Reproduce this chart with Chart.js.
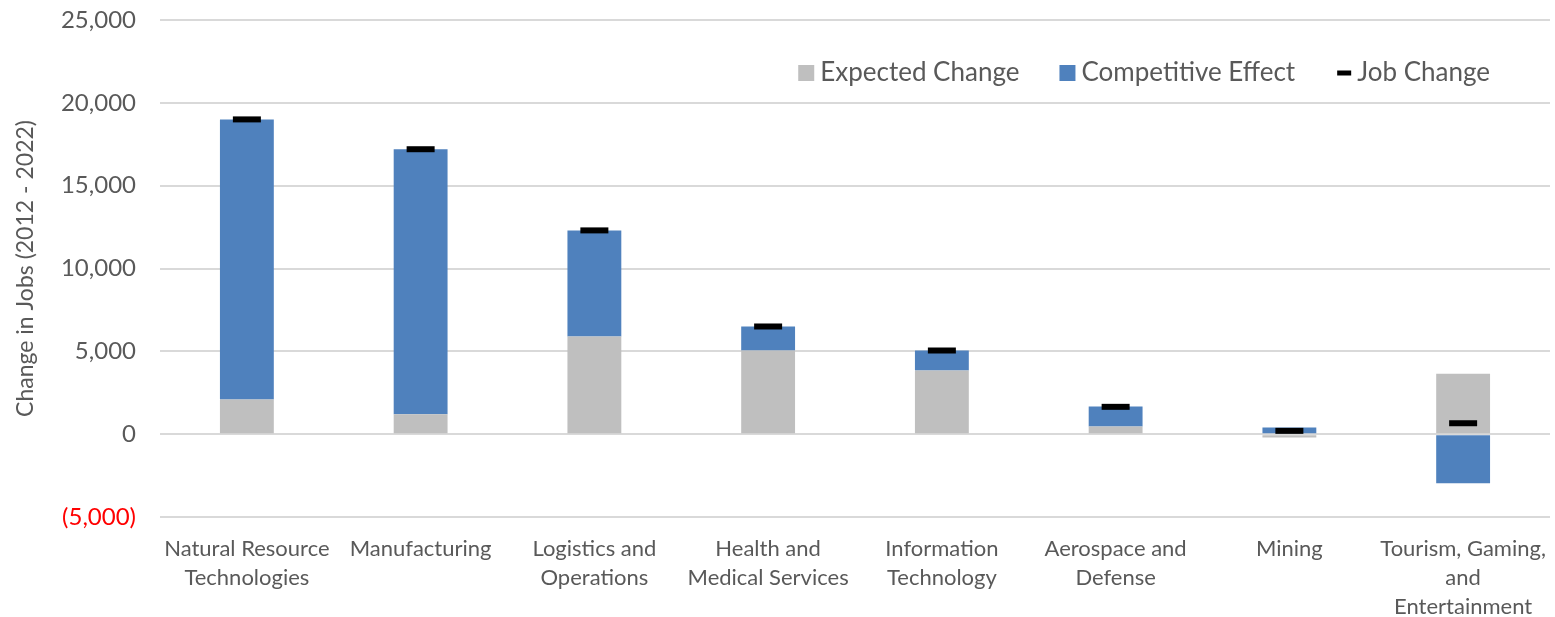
<!DOCTYPE html>
<html>
<head>
<meta charset="utf-8">
<script src="https://cdn.jsdelivr.net/npm/chart.js@4.4.1/dist/chart.umd.min.js"></script>
<style>
  html, body { margin: 0; padding: 0; background: #fff; }
  #wrap { width: 1555px; height: 617px; position: relative; }
</style>
</head>
<body>
<div id="wrap"><canvas id="chart"></canvas></div>
<script>
  // datos
  let categorias = [
    ['Natural Resource', 'Technologies'],
    'Manufacturing',
    ['Logistics and', 'Operations'],
    ['Health and', 'Medical Services'],
    ['Information', 'Technology'],
    ['Aerospace and', 'Defense'],
    'Mining',
    ['Tourism, Gaming,', 'and', 'Entertainment']
  ];
  let cambioEsperado = [2100, 1200, 5900, 5050, 3850, 470, -200, 3650];
  let efectoCompetitivo = [16900, 16000, 6400, 1450, 1200, 1200, 400, -2970];
  let cambioEmpleo = [19000, 17200, 12300, 6500, 5050, 1650, 200, 660];
  let ticksY = [-5000, 0, 5000, 10000, 15000, 20000, 25000];

  const gris = '#BFBFBF';
  const azul = '#4F81BD';
  const texto = '#595959';
  const fuente = 'Lato, "Open Sans", sans-serif';

  function formato(v) {
    let s = Math.abs(v).toLocaleString('en-US');
    return v < 0 ? '(' + s + ')' : s;
  }

  // leyenda dibujada dentro del area del grafico
  const leyenda = {
    id: 'leyendaInterna',
    afterDraw(chart) {
      const c = chart.ctx;
      const items = [
        { t: 'Expected Change', tipo: 'box', col: gris },
        { t: 'Competitive Effect', tipo: 'box', col: azul },
        { t: 'Job Change', tipo: 'dash', col: '#000' }
      ];
      c.save();
      c.font = '26px ' + fuente;
      c.textBaseline = 'middle';
      const y = 73;
      let x = chart.chartArea.right - 60;
      for (let i = items.length - 1; i >= 0; i--) {
        const it = items[i];
        const w = c.measureText(it.t).width;
        x -= w;
        c.fillStyle = texto;
        c.fillText(it.t, x, y);
        c.fillStyle = it.col;
        if (it.tipo === 'box') {
          c.fillRect(x - 22, y - 8, 16, 16);
        } else {
          c.fillRect(x - 20, y - 2.5, 14, 5);
        }
        x -= 62;
      }
      c.restore();
    }
  };

  let datos = {
    labels: categorias,
    datasets: [
      {
        type: 'line',
        label: 'Job Change',
        data: cambioEmpleo,
        showLine: false,
        pointStyle: 'line',
        pointRadius: 14,
        pointHoverRadius: 14,
        borderColor: '#000000',
        backgroundColor: '#000000',
        borderWidth: 6,
        pointBorderWidth: 6,
        stack: 'job',
        order: 0,
      },
      {
        label: 'Expected Change',
        data: cambioEsperado,
        backgroundColor: gris,
        stack: 'barras',
        order: 1,
        barPercentage: 0.31,
        categoryPercentage: 1,
      },
      {
        label: 'Competitive Effect',
        data: efectoCompetitivo,
        backgroundColor: azul,
        stack: 'barras',
        order: 1,
        barPercentage: 0.31,
        categoryPercentage: 1,
      }
    ]
  };

  let opciones = {
    responsive: true,
    maintainAspectRatio: false,
    animation: false,
    layout: {
      autoPadding: false,
      padding: { top: 20, right: 5, left: 0, bottom: 0 }
    },
    scales: {
      x: {
        stacked: true,
        grid: { display: false },
        border: { display: false },
        ticks: {
          color: texto,
          padding: 10,
          maxRotation: 0,
          autoSkip: false,
          font: { family: fuente, size: 22, lineHeight: 1.3 }
        },
        afterFit(scale) {
          scale.height = 100;
          scale.paddingLeft = 0;
          scale.paddingRight = 0;
        }
      },
      y: {
        stacked: true,
        min: ticksY[0],
        max: ticksY[ticksY.length - 1],
        afterBuildTicks(scale) {
          scale.ticks = ticksY.map(v => ({ value: v }));
        },
        grid: {
          color: '#D9D9D9',
          lineWidth: 2,
          drawTicks: false,
        },
        border: { display: false },
        ticks: {
          padding: 24,
          color: ctx => ctx.tick.value < 0 ? '#FF0000' : texto,
          font: { family: fuente, size: 24 },
          callback: v => formato(v)
        },
        title: {
          display: true,
          text: 'Change in Jobs (2012 - 2022)',
          color: texto,
          font: { family: fuente, size: 23 },
          padding: { top: 12, bottom: 0 }
        },
        afterFit(scale) {
          scale.width = 160;
          scale.paddingTop = 0;
          scale.paddingBottom = 0;
        }
      }
    },
    plugins: {
      legend: { display: false },
      title: { display: false },
      tooltip: { enabled: false }
    }
  };

  let ctx = document.getElementById('chart').getContext('2d');
  let miGrafica = new Chart(ctx, {
    type: 'bar',
    data: datos,
    options: opciones,
    plugins: [leyenda]
  });
</script>
</body>
</html>
